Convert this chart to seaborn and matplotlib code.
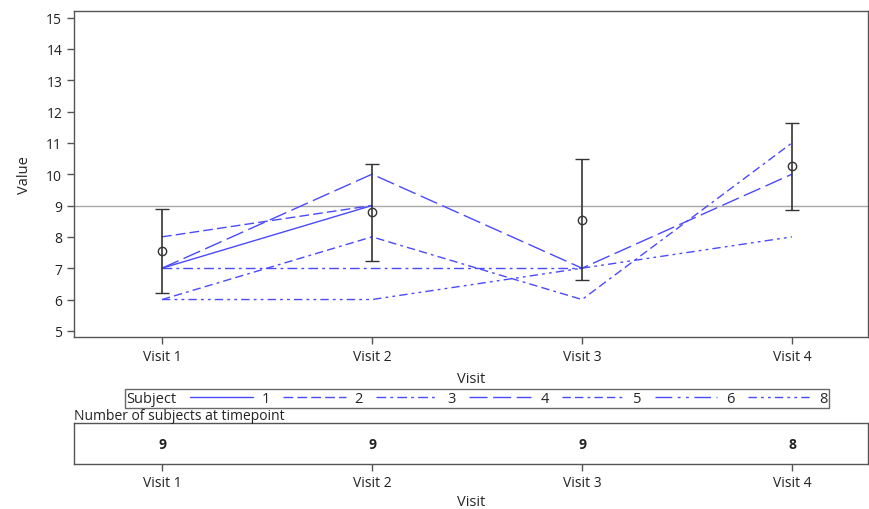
import numpy as np
import pandas as pd
import matplotlib
matplotlib.use('Agg')
import matplotlib.pyplot as plt
import seaborn as sns

# ---- data ----
visits = ['Visit 1', 'Visit 2', 'Visit 3', 'Visit 4']
subjects = ['1', '2', '3', '4', '5', '6', '8']
subject_values = {
    '1': [7, 9, np.nan, np.nan],
    '2': [8, 9, np.nan, np.nan],
    '3': [7, 7, 7, np.nan],
    '4': [7, 10, 7, 10],
    '5': [6, 8, 6, 11],
    '6': [7, np.nan, np.nan, np.nan],
    '8': [6, 6, 7, 8],
}
mean_values = [7.55, 8.78, 8.55, 10.25]
lower_values = [6.22, 7.22, 6.62, 8.87]
upper_values = [8.88, 10.33, 10.50, 11.62]
n_subjects = [9, 9, 9, 8]
ref_value = 9

# ---- long form ----
rows = []
for s in subjects:
    for i, v in enumerate(subject_values[s]):
        if not np.isnan(v):
            rows.append({'Subject': s, 'pos': i, 'Value': v})
df = pd.DataFrame(rows)

sns.set_theme(style='white')
plt.rcParams['font.family'] = ['Open Sans', 'DejaVu Sans']
plt.rcParams['font.size'] = 10

line_col = '#4a4aff'
dashes = {
    '1': '',
    '2': (7, 3),
    '3': (7, 3, 2, 3),
    '4': (13, 4),
    '5': (6, 3, 6, 3, 2, 3),
    '6': (12, 4, 2, 4, 2, 4),
    '8': (6, 3, 2, 3, 2, 3),
}

fig = plt.figure(figsize=(8.69, 5.10), dpi=100)
ax = fig.add_axes([0.0852, 0.337, 0.9137, 0.639])
ax2 = fig.add_axes([0.0852, 0.088, 0.9137, 0.0804])

ax.axhline(ref_value, color='#a8a8a8', lw=1, zorder=1)

sns.lineplot(data=df, x='pos', y='Value', style='Subject', style_order=subjects,
             dashes=dashes, color=line_col, lw=1, estimator=None, sort=True,
             ax=ax, legend=True)

pos = np.arange(len(visits))
ax.errorbar(pos, mean_values,
            yerr=[np.array(mean_values) - np.array(lower_values),
                  np.array(upper_values) - np.array(mean_values)],
            fmt='o', mfc='none', mec='#333333', ms=6, mew=1,
            ecolor='#333333', elinewidth=1.2, capsize=5, capthick=1.2, zorder=5)

ax.set_xlim(-0.419, 3.362)
ax.set_ylim(4.8, 15.2)
ax.set_yticks(range(5, 16))
ax.set_xticks(pos)
ax.set_xticklabels(visits)
ax.set_xlabel('Visit', fontsize=10.5, labelpad=5)
ax.set_ylabel('Value', fontsize=10.5, labelpad=10)
ax.tick_params(axis='both', length=5, width=1, color='#555555', labelsize=10,
               bottom=True, left=True, labelcolor='#222222')
for sp in ax.spines.values():
    sp.set_color('#555555')
    sp.set_linewidth(1)

# legend laid out horizontally with the title at the left
handles, labels = ax.get_legend_handles_labels()
ax.get_legend().remove()
leg = fig.legend(handles, labels, title='Subject', ncol=len(subjects),
                 loc='center', bbox_to_anchor=(0.549, 0.2167),
                 frameon=True, fancybox=False, edgecolor='#444444',
                 handlelength=4.3, handletextpad=0.6, columnspacing=0.9,
                 borderpad=0.12, fontsize=10.5, title_fontsize=10.5)
leg.get_frame().set_linewidth(1)
box = leg.get_children()[0]
title_box = box.get_children()[0]
cols_box = box.get_children()[1]
box._children = [cols_box]
cols_box._children = [title_box] + cols_box.get_children()

# subjects-at-risk table
for i, n in enumerate(n_subjects):
    ax2.text(i, 0.5, str(n), ha='center', va='center', fontsize=10,
             fontweight='bold', color='#222222')
ax2.set_xlim(-0.419, 3.362)
ax2.set_ylim(0, 1)
ax2.set_yticks([])
ax2.set_xticks(pos)
ax2.set_xticklabels(visits)
ax2.set_xlabel('Visit', fontsize=10.5, labelpad=3)
ax2.tick_params(axis='x', length=5, width=1, color='#555555', labelsize=10,
                bottom=True, labelcolor='#222222', pad=3)
for sp in ax2.spines.values():
    sp.set_color('#555555')
    sp.set_linewidth(1)
ax2.text(0, 1.0, 'Number of subjects at timepoint', transform=ax2.transAxes,
         ha='left', va='bottom', fontsize=10, color='#222222')

fig.savefig('out.png', dpi=100)
plt.close()
